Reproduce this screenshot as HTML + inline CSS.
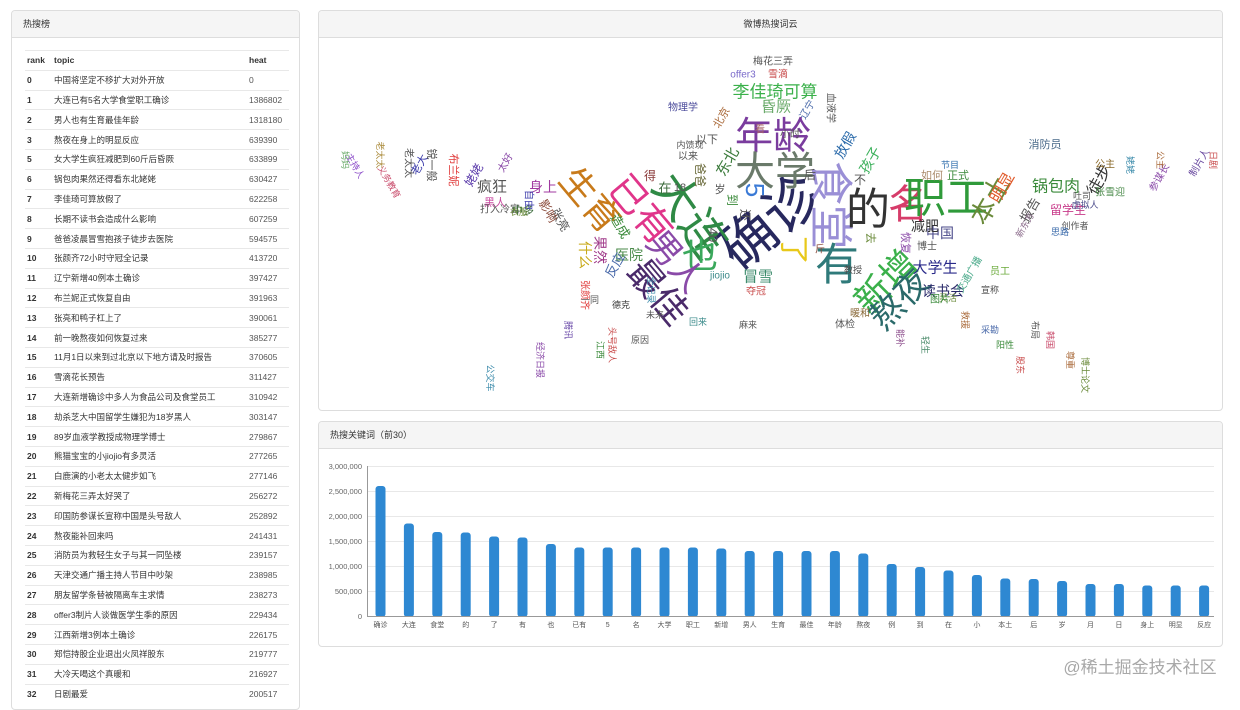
<!DOCTYPE html>
<html><head><meta charset="utf-8">
<style>
*{margin:0;padding:0;box-sizing:border-box}
body{width:1240px;height:698px;overflow:hidden;background:#fff;font-family:"Liberation Sans","Noto Sans CJK SC",sans-serif;color:#333;position:relative}
.panel{position:absolute;border:1px solid #ddd;border-radius:4px;background:#fff;overflow:hidden}
.hd{height:27px;background:#f5f5f5;border-bottom:1px solid #ddd;font-size:9px;line-height:27px;padding-left:11px;color:#333}
table{position:absolute;left:13px;top:39px;width:264px;border-collapse:collapse;font-size:8.5px}
td,th{height:19.8px;border-top:1px solid #e8e8e8;text-align:left;padding:0 2px;white-space:nowrap}
th{font-weight:bold}
td:first-child{font-weight:bold;width:27px}
td:nth-child(3),th:nth-child(3){width:42px;color:#555}
th:nth-child(3){color:#333}
</style></head><body>
<div class="panel" style="left:11px;top:10px;width:289px;height:700px">
<div class="hd">热搜榜</div>
<table>
<tr><th>rank</th><th>topic</th><th>heat</th></tr>
<tr><td>0</td><td>中国将坚定不移扩大对外开放</td><td>0</td></tr>
<tr><td>1</td><td>大连已有5名大学食堂职工确诊</td><td>1386802</td></tr>
<tr><td>2</td><td>男人也有生育最佳年龄</td><td>1318180</td></tr>
<tr><td>3</td><td>熬夜在身上的明显反应</td><td>639390</td></tr>
<tr><td>5</td><td>女大学生疯狂减肥到60斤后昏厥</td><td>633899</td></tr>
<tr><td>6</td><td>锅包肉果然还得看东北姥姥</td><td>630427</td></tr>
<tr><td>7</td><td>李佳琦可算放假了</td><td>622258</td></tr>
<tr><td>8</td><td>长期不读书会造成什么影响</td><td>607259</td></tr>
<tr><td>9</td><td>爸爸凌晨冒雪抱孩子徒步去医院</td><td>594575</td></tr>
<tr><td>10</td><td>张颜齐72小时守冠全记录</td><td>413720</td></tr>
<tr><td>11</td><td>辽宁新增40例本土确诊</td><td>397427</td></tr>
<tr><td>12</td><td>布兰妮正式恢复自由</td><td>391963</td></tr>
<tr><td>13</td><td>张亮和鸭子杠上了</td><td>390061</td></tr>
<tr><td>14</td><td>前一晚熬夜如何恢复过来</td><td>385277</td></tr>
<tr><td>15</td><td>11月1日以来到过北京以下地方请及时报告</td><td>370605</td></tr>
<tr><td>16</td><td>雪滴花长预告</td><td>311427</td></tr>
<tr><td>17</td><td>大连新增确诊中多人为食品公司及食堂员工</td><td>310942</td></tr>
<tr><td>18</td><td>劫杀芝大中国留学生嫌犯为18岁黑人</td><td>303147</td></tr>
<tr><td>19</td><td>89岁血液学教授成物理学博士</td><td>279867</td></tr>
<tr><td>20</td><td>熊猫宝宝的小jiojio有多灵活</td><td>277265</td></tr>
<tr><td>21</td><td>白鹿演的小老太太健步如飞</td><td>277146</td></tr>
<tr><td>22</td><td>新梅花三弄太好哭了</td><td>256272</td></tr>
<tr><td>23</td><td>印国防参谋长宣称中国是头号敌人</td><td>252892</td></tr>
<tr><td>24</td><td>熬夜能补回来吗</td><td>241431</td></tr>
<tr><td>25</td><td>消防员为救轻生女子与其一同坠楼</td><td>239157</td></tr>
<tr><td>26</td><td>天津交通广播主持人节目中吵架</td><td>238985</td></tr>
<tr><td>27</td><td>朋友留学条替被隔离车主求情</td><td>238273</td></tr>
<tr><td>28</td><td>offer3制片人谈做医学生季的原因</td><td>229434</td></tr>
<tr><td>29</td><td>江西新增3例本土确诊</td><td>226175</td></tr>
<tr><td>30</td><td>郑恺持股企业退出火凤祥股东</td><td>219777</td></tr>
<tr><td>31</td><td>大冷天喝这个真暖和</td><td>216927</td></tr>
<tr><td>32</td><td>日剧最爱</td><td>200517</td></tr>
</table>
</div>

<div class="panel" style="left:318px;top:10px;width:905px;height:401px">
<div class="hd" style="text-align:center;padding:0">微博热搜词云</div>
</div>
<svg style="position:absolute;left:0;top:0" width="1240" height="420" font-family="Liberation Sans, Noto Sans CJK SC, sans-serif" text-anchor="middle" dominant-baseline="central">
<text x="770" y="222" font-size="56" fill="#27285e" transform="rotate(-40 770 222)">确诊</text>
<text x="690" y="215" font-size="46" fill="#2f8a45" transform="rotate(55 690 215)">大连</text>
<text x="700" y="255" font-size="36" fill="#3aa85c">也</text>
<text x="830" y="205" font-size="44" fill="#9a8fd6" transform="rotate(90 830 205)">食堂</text>
<text x="868" y="210" font-size="44" fill="#333">的</text>
<text x="908" y="205" font-size="40" fill="#d63c6a">名</text>
<text x="946" y="198" font-size="42" fill="#2f9a3a">职工</text>
<text x="773" y="137" font-size="38" fill="#7a3c9e">年龄</text>
<text x="775" y="172" font-size="40" fill="#6a7a6a">大学</text>
<text x="837" y="265" font-size="44" fill="#2f7a7a">有</text>
<text x="886" y="282" font-size="36" fill="#3ab04a" transform="rotate(-45 886 282)">新增</text>
<text x="900" y="300" font-size="34" fill="#2a6a6a" transform="rotate(-45 900 300)">熬夜</text>
<text x="658" y="292" font-size="36" fill="#4a2a6a" transform="rotate(50 658 292)">最佳</text>
<text x="675" y="262" font-size="34" fill="#8a4aa8" transform="rotate(50 675 262)">男人</text>
<text x="640" y="210" font-size="38" fill="#e0358a" transform="rotate(50 640 210)">已有</text>
<text x="590" y="200" font-size="36" fill="#c87a1a" transform="rotate(50 590 200)">生育</text>
<text x="793" y="250" font-size="30" fill="#e8c81a" transform="rotate(90 793 250)">了</text>
<text x="755" y="190" font-size="26" fill="#3a7ad6" transform="rotate(90 755 190)">5</text>
<text x="990" y="200" font-size="26" fill="#6a8a3a" transform="rotate(-60 990 200)">本土</text>
<text x="775" y="92" font-size="17" fill="#3ab04a">李佳琦可算</text>
<text x="776" y="107" font-size="15" fill="#6aaa6a">昏厥</text>
<text x="1056" y="187" font-size="16" fill="#3a8a3a">锅包肉</text>
<text x="1003" y="188" font-size="16" fill="#e05a2a" transform="rotate(-60 1003 188)">明显</text>
<text x="1100" y="180" font-size="16" fill="#333" transform="rotate(-60 1100 180)">徒步</text>
<text x="935" y="268" font-size="15" fill="#2a2a8a">大学生</text>
<text x="943" y="291" font-size="14" fill="#2a2a6a">读书会</text>
<text x="941" y="292" font-size="14" fill="#2a2a6a" opacity="0"> </text>
<text x="940" y="233" font-size="14" fill="#4a4a8a">中国</text>
<text x="925" y="226" font-size="14" fill="#333">减肥</text>
<text x="758" y="277" font-size="15" fill="#3a8a6a">冒雪</text>
<text x="629" y="255" font-size="14" fill="#4a8a4a">医院</text>
<text x="492" y="187" font-size="15" fill="#555">疯狂</text>
<text x="543" y="187" font-size="14" fill="#a03aa0">身上</text>
<text x="728" y="162" font-size="15" fill="#3a7a3a" transform="rotate(-60 728 162)">东北</text>
<text x="845" y="145" font-size="14" fill="#2a6aaa" transform="rotate(-60 845 145)">放假</text>
<text x="870" y="160" font-size="14" fill="#3ab05a" transform="rotate(-60 870 160)">孩子</text>
<text x="1068" y="210" font-size="12" fill="#c83a8a">留学生</text>
<text x="1030" y="210" font-size="13" fill="#555" transform="rotate(-60 1030 210)">报告</text>
<text x="1045" y="145" font-size="11" fill="#4a6a8a">消防员</text>
<text x="1105" y="165" font-size="10" fill="#8a6a2a">公主</text>
<text x="1110" y="193" font-size="10" fill="#4a8a4a">张雪迎</text>
<text x="1160" y="178" font-size="10" fill="#8a4aa8" transform="rotate(-60 1160 178)">参谋长</text>
<text x="1200" y="163" font-size="10" fill="#6a4aa0" transform="rotate(-60 1200 163)">制片人</text>
<text x="1075" y="226" font-size="9" fill="#555">创作者</text>
<text x="1085" y="205" font-size="9" fill="#4a4a8a">虚拟人</text>
<text x="1082" y="196" font-size="9" fill="#555">吐司</text>
<text x="1060" y="232" font-size="9" fill="#3a6aaa">思路</text>
<text x="1025" y="225" font-size="9" fill="#8a6a8a" transform="rotate(-60 1025 225)">新东方</text>
<text x="778" y="75" font-size="10" fill="#c84a4a">雪滴</text>
<text x="743" y="75" font-size="10" fill="#7a6aca">offer3</text>
<text x="773" y="62" font-size="10" fill="#555">梅花三弄</text>
<text x="958" y="176" font-size="11" fill="#3a8a3a">正式</text>
<text x="932" y="176" font-size="11" fill="#aa8a6a">如何</text>
<text x="950" y="165" font-size="9" fill="#2a6aaa">节目</text>
<text x="948" y="298" font-size="9" fill="#6a8a3a">灵活</text>
<text x="990" y="290" font-size="9" fill="#4a4a4a">宣称</text>
<text x="1000" y="272" font-size="10" fill="#6aaa3a">员工</text>
<text x="970" y="275" font-size="10" fill="#4aaa8a" transform="rotate(-60 970 275)">交通广播</text>
<text x="720" y="276" font-size="10" fill="#3a8a8a">jiojio</text>
<text x="756" y="292" font-size="10" fill="#c84a4a">夺冠</text>
<text x="713" y="235" font-size="13" fill="#555" transform="rotate(90 713 235)">40</text>
<text x="585" y="255" font-size="14" fill="#c8aa1a" transform="rotate(90 585 255)">什么</text>
<text x="600" y="250" font-size="14" fill="#a03a8a" transform="rotate(90 600 250)">果然</text>
<text x="615" y="265" font-size="13" fill="#4a6aaa" transform="rotate(-60 615 265)">反应</text>
<text x="620" y="226" font-size="13" fill="#3a8a3a" transform="rotate(60 620 226)">造成</text>
<text x="560" y="220" font-size="12" fill="#555" transform="rotate(60 560 220)">张亮</text>
<text x="548" y="211" font-size="12" fill="#8a4a3a" transform="rotate(60 548 211)">影响</text>
<text x="584" y="295" font-size="10" fill="#e03a3a" transform="rotate(90 584 295)">张颜齐</text>
<text x="420" y="165" font-size="11" fill="#3a3aaa" transform="rotate(-60 420 165)">老大</text>
<text x="453" y="170" font-size="11" fill="#e03a3a" transform="rotate(90 453 170)">布兰妮</text>
<text x="474" y="175" font-size="12" fill="#5a3aaa" transform="rotate(-60 474 175)">姥姥</text>
<text x="408" y="163" font-size="10" fill="#555" transform="rotate(90 408 163)">老太太</text>
<text x="431" y="165" font-size="11" fill="#555" transform="rotate(90 431 165)">锐一般</text>
<text x="355" y="166" font-size="9" fill="#8a4ac8" transform="rotate(60 355 166)">主持人</text>
<text x="389" y="182" font-size="9" fill="#c84a6a" transform="rotate(60 389 182)">义务教育</text>
<text x="500" y="210" font-size="10" fill="#555">打入冷宫</text>
<text x="495" y="203" font-size="11" fill="#c84aa0">黑人</text>
<text x="523" y="211" font-size="11" fill="#3a6a3a">中多</text>
<text x="506" y="163" font-size="10" fill="#8a4aa8" transform="rotate(-60 506 163)">太好</text>
<text x="528" y="200" font-size="10" fill="#3a3aaa" transform="rotate(90 528 200)">自由</text>
<text x="519" y="212" font-size="9" fill="#6a8a3a">衣服</text>
<text x="683" y="108" font-size="10" fill="#4a4a9a">物理学</text>
<text x="722" y="118" font-size="11" fill="#aa6a3a" transform="rotate(-60 722 118)">北京</text>
<text x="707" y="140" font-size="11" fill="#555">以下</text>
<text x="688" y="157" font-size="10" fill="#555">以来</text>
<text x="690" y="145" font-size="9" fill="#555">内馈现</text>
<text x="808" y="110" font-size="10" fill="#4a6aaa" transform="rotate(-60 808 110)">辽宁</text>
<text x="830" y="108" font-size="10" fill="#555" transform="rotate(90 830 108)">血液学</text>
<text x="845" y="325" font-size="10" fill="#555">体检</text>
<text x="860" y="314" font-size="10" fill="#8a6a3a">暖和</text>
<text x="870" y="238" font-size="11" fill="#6a8a3a" transform="rotate(90 870 238)">去</text>
<text x="853" y="270" font-size="9" fill="#4a4a4a">教授</text>
<text x="748" y="325" font-size="9" fill="#555">麻来</text>
<text x="698" y="322" font-size="9" fill="#3a8a8a">回来</text>
<text x="655" y="315" font-size="9" fill="#555">未来</text>
<text x="651" y="290" font-size="9" fill="#3a8aaa" transform="rotate(90 651 290)">全记录</text>
<text x="621" y="305" font-size="9" fill="#3a3a3a">德克</text>
<text x="640" y="340" font-size="9" fill="#555">原因</text>
<text x="612" y="345" font-size="9" fill="#c84a4a" transform="rotate(90 612 345)">头号敌人</text>
<text x="600" y="350" font-size="9" fill="#3a8a3a" transform="rotate(90 600 350)">江西</text>
<text x="540" y="360" font-size="9" fill="#8a4aa8" transform="rotate(90 540 360)">经济日报</text>
<text x="490" y="378" font-size="9" fill="#3a8aaa" transform="rotate(90 490 378)">公交车</text>
<text x="1050" y="340" font-size="9" fill="#c84a6a" transform="rotate(90 1050 340)">韩国</text>
<text x="1035" y="330" font-size="9" fill="#555" transform="rotate(90 1035 330)">布局</text>
<text x="1070" y="360" font-size="9" fill="#aa6a3a" transform="rotate(90 1070 360)">尊重</text>
<text x="1085" y="375" font-size="9" fill="#6a8a3a" transform="rotate(90 1085 375)">博士论文</text>
<text x="1005" y="345" font-size="9" fill="#3a8a3a">阳性</text>
<text x="990" y="330" font-size="9" fill="#4a6aaa">采勘</text>
<text x="965" y="320" font-size="9" fill="#aa6a3a" transform="rotate(90 965 320)">救援</text>
<text x="1020" y="365" font-size="9" fill="#c84a4a" transform="rotate(90 1020 365)">股东</text>
<text x="900" y="338" font-size="9" fill="#8a4a8a" transform="rotate(90 900 338)">能补</text>
<text x="925" y="345" font-size="9" fill="#4a8a6a" transform="rotate(90 925 345)">轻生</text>
<text x="820" y="250" font-size="10" fill="#8a4a3a">斤</text>
<text x="732" y="200" font-size="12" fill="#3a8a3a" transform="rotate(90 732 200)">到</text>
<text x="745" y="215" font-size="12" fill="#555" transform="rotate(90 745 215)">还</text>
<text x="665" y="188" font-size="13" fill="#3a6a3a">在</text>
<text x="650" y="176" font-size="12" fill="#8a3a3a">得</text>
<text x="700" y="175" font-size="12" fill="#6a6a3a" transform="rotate(90 700 175)">爸爸</text>
<text x="680" y="188" font-size="11" fill="#555">18</text>
<text x="720" y="190" font-size="11" fill="#555">岁</text>
<text x="810" y="175" font-size="12" fill="#555">后</text>
<text x="860" y="180" font-size="12" fill="#555">不</text>
<text x="905" y="243" font-size="11" fill="#8a4aa8" transform="rotate(90 905 243)">恢复</text>
<text x="927" y="247" font-size="10" fill="#555">博士</text>
<text x="940" y="300" font-size="10" fill="#3a8a3a">图片</text>
<text x="380" y="155" font-size="9" fill="#aa8a3a" transform="rotate(90 380 155)">老太太</text>
<text x="345" y="160" font-size="9" fill="#6aaa6a" transform="rotate(90 345 160)">妈妈</text>
<text x="1160" y="160" font-size="9" fill="#aa6a3a" transform="rotate(90 1160 160)">公主</text>
<text x="1130" y="165" font-size="9" fill="#3a8aaa" transform="rotate(90 1130 165)">姥姥</text>
<text x="1213" y="160" font-size="9" fill="#c84a4a" transform="rotate(90 1213 160)">日剧</text>
<text x="790" y="135" font-size="10" fill="#555">小时</text>
<text x="760" y="130" font-size="10" fill="#aa6a6a">看</text>
<text x="590" y="300" font-size="9" fill="#555">一同</text>
<text x="568" y="330" font-size="9" fill="#6a4aa8" transform="rotate(90 568 330)">腾讯</text>
</svg>

<div class="panel" style="left:318px;top:421px;width:905px;height:226px">
<div class="hd">热搜关键词（前30）</div>
</div>
<svg style="position:absolute;left:0;top:0" width="1240" height="698" font-family="Liberation Sans, Noto Sans CJK SC, sans-serif">
<g stroke="#e8e8e8" stroke-width="1">
<line x1="367" y1="466.5" x2="1214" y2="466.5"/><line x1="367" y1="491.5" x2="1214" y2="491.5"/><line x1="367" y1="516.5" x2="1214" y2="516.5"/><line x1="367" y1="541.5" x2="1214" y2="541.5"/><line x1="367" y1="566.5" x2="1214" y2="566.5"/><line x1="367" y1="591.5" x2="1214" y2="591.5"/>
</g>
<line x1="367.5" y1="466" x2="367.5" y2="616" stroke="#999"/>
<line x1="367" y1="616.5" x2="1214" y2="616.5" stroke="#999"/>
<g font-size="7.5" fill="#666" text-anchor="end">
<text x="362" y="469">3,000,000</text><text x="362" y="494">2,500,000</text><text x="362" y="519">2,000,000</text><text x="362" y="544">1,500,000</text><text x="362" y="569">1,000,000</text><text x="362" y="594">500,000</text><text x="362" y="619">0</text>
</g>
<g id="bars" fill="#2e88d2"></g>
<g id="lbl" font-size="7" fill="#555" text-anchor="middle"></g>
<text x="1140" y="673" font-size="17" fill="#a8a8a8" text-anchor="middle">@稀土掘金技术社区</text>
</svg>
<svg style="position:absolute;left:0;top:0" width="1240" height="698" font-family="Liberation Sans, Noto Sans CJK SC, sans-serif">
<g fill="#2e88d2">
<rect x="375.5" y="486" width="10" height="131" rx="3"/>
<rect x="403.9" y="523.5" width="10" height="93.5" rx="3"/>
<rect x="432.3" y="532" width="10" height="85" rx="3"/>
<rect x="460.7" y="532.5" width="10" height="84.5" rx="3"/>
<rect x="489.1" y="536.5" width="10" height="80.5" rx="3"/>
<rect x="517.5" y="537.5" width="10" height="79.5" rx="3"/>
<rect x="545.9" y="544" width="10" height="73" rx="3"/>
<rect x="574.3" y="547.5" width="10" height="69.5" rx="3"/>
<rect x="602.7" y="547.5" width="10" height="69.5" rx="3"/>
<rect x="631.1" y="547.5" width="10" height="69.5" rx="3"/>
<rect x="659.5" y="547.5" width="10" height="69.5" rx="3"/>
<rect x="687.9" y="547.5" width="10" height="69.5" rx="3"/>
<rect x="716.3" y="548.5" width="10" height="68.5" rx="3"/>
<rect x="744.7" y="551" width="10" height="66" rx="3"/>
<rect x="773.1" y="551" width="10" height="66" rx="3"/>
<rect x="801.5" y="551" width="10" height="66" rx="3"/>
<rect x="829.9" y="551" width="10" height="66" rx="3"/>
<rect x="858.3" y="553.5" width="10" height="63.5" rx="3"/>
<rect x="886.7" y="564" width="10" height="53" rx="3"/>
<rect x="915.1" y="567" width="10" height="50" rx="3"/>
<rect x="943.5" y="570.5" width="10" height="46.5" rx="3"/>
<rect x="971.9" y="575" width="10" height="42" rx="3"/>
<rect x="1000.3" y="578.5" width="10" height="38.5" rx="3"/>
<rect x="1028.7" y="579" width="10" height="38" rx="3"/>
<rect x="1057.1" y="581" width="10" height="36" rx="3"/>
<rect x="1085.5" y="584" width="10" height="33" rx="3"/>
<rect x="1113.9" y="584" width="10" height="33" rx="3"/>
<rect x="1142.3" y="585.5" width="10" height="31.5" rx="3"/>
<rect x="1170.7" y="585.5" width="10" height="31.5" rx="3"/>
<rect x="1199.1" y="585.5" width="10" height="31.5" rx="3"/>
</g>
<line x1="367" y1="616.5" x2="1214" y2="616.5" stroke="#999"/>
<g font-size="7" fill="#555" text-anchor="middle">
<text x="380.5" y="627">确诊</text><text x="408.9" y="627">大连</text><text x="437.3" y="627">食堂</text><text x="465.7" y="627">的</text><text x="494.1" y="627">了</text><text x="522.5" y="627">有</text><text x="550.9" y="627">也</text><text x="579.3" y="627">已有</text><text x="607.7" y="627">5</text><text x="636.1" y="627">名</text><text x="664.5" y="627">大学</text><text x="692.9" y="627">职工</text><text x="721.3" y="627">新增</text><text x="749.7" y="627">男人</text><text x="778.1" y="627">生育</text><text x="806.5" y="627">最佳</text><text x="834.9" y="627">年龄</text><text x="863.3" y="627">熬夜</text><text x="891.7" y="627">例</text><text x="920.1" y="627">到</text><text x="948.5" y="627">在</text><text x="976.9" y="627">小</text><text x="1005.3" y="627">本土</text><text x="1033.7" y="627">后</text><text x="1062.1" y="627">岁</text><text x="1090.5" y="627">月</text><text x="1118.9" y="627">日</text><text x="1147.3" y="627">身上</text><text x="1175.7" y="627">明显</text><text x="1204.1" y="627">反应</text>
</g>
</svg>
</body></html>
